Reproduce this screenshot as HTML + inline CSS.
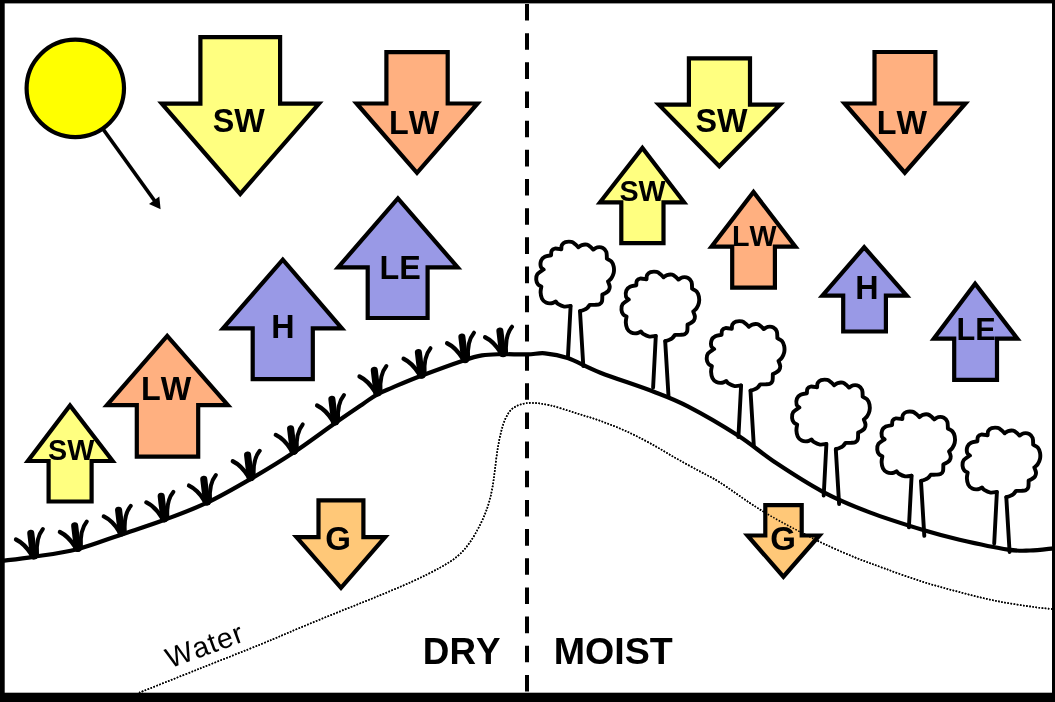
<!DOCTYPE html>
<html><head><meta charset="utf-8"><title>Energy balance: dry vs moist</title>
<style>
html,body{margin:0;padding:0;background:#fff;}
body{width:1055px;height:702px;overflow:hidden;}
svg{display:block;font-family:"Liberation Sans",sans-serif;fill:#000;font-kerning:none;}
</style></head><body>
<svg width="1055" height="702" viewBox="0 0 1055 702">
<rect width="1055" height="702" fill="#fff"/>
<path d="M2.00,560.80 C7.25,560.13 20.97,558.73 33.50,556.80 C46.03,554.87 62.52,552.93 77.20,549.20 C91.88,545.47 107.13,539.27 121.60,534.40 C136.07,529.53 149.77,525.28 164.00,520.00 C178.23,514.72 192.50,509.58 207.00,502.70 C221.50,495.82 236.57,487.07 251.00,478.70 C265.43,470.33 279.62,461.75 293.60,452.50 C307.58,443.25 323.45,431.22 334.90,423.20 C346.35,415.18 355.23,409.22 362.30,404.40 C369.37,399.58 372.30,397.10 377.30,394.30 C382.30,391.50 385.08,390.65 392.30,387.60 C399.52,384.55 408.70,380.53 420.60,376.00 C432.50,371.47 453.47,363.83 463.70,360.40 C473.93,356.97 475.95,356.43 482.00,355.40 C488.05,354.37 492.42,354.37 500.00,354.20 C507.58,354.03 520.00,354.55 527.50,354.40 C535.00,354.25 538.30,352.68 545.00,353.30 C551.70,353.92 558.47,354.87 567.70,358.10 C576.93,361.33 586.17,367.13 600.40,372.70 C614.63,378.27 638.45,385.85 653.10,391.50 C667.75,397.15 674.15,399.27 688.30,406.60 C702.45,413.93 723.35,426.08 738.00,435.50 C752.65,444.92 762.05,453.72 776.20,463.10 C790.35,472.48 807.32,483.58 822.90,491.80 C838.48,500.02 852.85,505.98 869.70,512.40 C886.55,518.82 909.03,525.75 924.00,530.30 C938.97,534.85 945.47,536.48 959.50,539.70 C973.53,542.92 996.45,547.80 1008.20,549.60 C1019.95,551.40 1022.53,550.72 1030.00,550.50 C1037.47,550.28 1049.17,548.67 1053.00,548.30" fill="none" stroke="#000" stroke-width="4.2" stroke-linejoin="round"/>
<path id="water" d="M139.00,692.80 C149.17,688.75 179.50,676.67 200.00,668.50 C220.50,660.33 245.67,650.45 262.00,643.80 C278.33,637.15 285.70,633.72 298.00,628.60 C310.30,623.48 323.18,618.22 335.80,613.10 C348.42,607.98 361.05,603.12 373.70,597.90 C386.35,592.68 400.63,586.85 411.70,581.80 C422.77,576.75 432.42,571.90 440.10,567.60 C447.78,563.30 452.87,560.17 457.80,556.00 C462.73,551.83 465.97,547.83 469.70,542.60 C473.43,537.37 477.20,530.58 480.20,524.60 C483.20,518.62 485.70,512.68 487.70,506.70 C489.70,500.72 491.02,494.68 492.20,488.70 C493.38,482.72 493.92,477.28 494.80,470.80 C495.68,464.32 496.45,456.28 497.50,449.80 C498.55,443.32 499.75,437.13 501.10,431.90 C502.45,426.67 503.85,422.15 505.60,418.40 C507.35,414.65 509.10,411.73 511.60,409.40 C514.10,407.07 517.10,405.48 520.60,404.40 C524.10,403.32 527.70,402.75 532.60,402.90 C537.50,403.05 542.93,403.65 550.00,405.30 C557.07,406.95 566.60,410.20 575.00,412.80 C583.40,415.40 591.98,417.88 600.40,420.90 C608.82,423.92 617.13,427.13 625.50,430.90 C633.87,434.67 642.23,438.97 650.60,443.50 C658.97,448.03 667.33,453.37 675.70,458.10 C684.07,462.83 693.43,467.85 700.80,471.90 C708.17,475.95 711.72,477.22 719.90,482.40 C728.08,487.58 741.17,497.25 749.90,503.00 C758.63,508.75 763.57,511.90 772.30,516.90 C781.03,521.90 793.57,528.45 802.30,533.00 C811.03,537.55 815.97,540.15 824.70,544.20 C833.43,548.25 844.72,553.25 854.70,557.30 C864.68,561.35 873.37,564.45 884.60,568.50 C895.83,572.55 909.62,577.67 922.10,581.60 C934.58,585.53 947.02,588.85 959.50,592.10 C971.98,595.35 984.52,598.60 997.00,601.10 C1009.48,603.60 1025.23,605.78 1034.40,607.10 C1043.57,608.42 1049.07,608.68 1052.00,609.00" fill="none" stroke="#000" stroke-width="1.55" stroke-dasharray="1.55 1.58"/>
<defs><g id="tuft" fill="none" stroke="#000" stroke-linecap="round"><path d="M-2.5,-3.4 Q-9.3,-14.2 -17.8,-18.3" stroke-width="4.3"/><path d="M0,-2 Q-1.8,-13 -3.0,-24.5" stroke-width="7.1"/><path d="M3.2,-3.4 Q2.0,-20 9.1,-28.8" stroke-width="4"/><circle cx="0.2" cy="-2.8" r="4.5" fill="#000" stroke="none"/></g><g id="tree" fill="none" stroke="#000" stroke-width="3.9" stroke-linecap="round" stroke-linejoin="round"><path d="M570.43,305.48 C569.39,305.57 566.26,306.39 564.17,306.05 C562.08,305.70 559.33,304.28 557.90,303.43 C556.48,302.57 556.01,301.34 555.63,300.92 C554.96,301.22 553.25,302.55 551.64,302.74 C550.03,302.93 547.56,302.84 545.95,302.06 C544.33,301.28 542.85,299.78 541.96,298.07 C541.07,296.36 540.69,293.80 540.59,291.81 C540.50,289.82 541.26,287.06 541.39,286.11 C540.82,285.73 538.83,284.97 537.97,283.84 C537.12,282.70 536.36,280.99 536.26,279.28 C536.17,277.57 536.17,275.29 537.40,273.59 C538.64,271.88 542.62,269.79 543.67,269.03 C543.19,268.56 541.24,267.70 540.82,266.18 C540.40,264.66 540.50,261.57 541.16,259.92 C541.83,258.27 543.15,257.13 544.81,256.27 C546.46,255.42 550.03,255.04 551.07,254.79 C551.17,254.03 551.01,251.36 551.64,250.24 C552.27,249.12 553.22,248.32 554.83,248.07 C556.44,247.83 560.24,248.64 561.32,248.76 C561.42,248.05 561.23,245.72 561.89,244.54 C562.56,243.37 563.69,242.21 565.31,241.69 C566.92,241.18 569.86,241.09 571.57,241.47 C573.28,241.85 574.42,243.08 575.56,243.97 C576.70,244.86 577.93,246.35 578.41,246.82 C578.97,246.44 580.40,244.98 581.82,244.54 C583.25,244.11 585.43,243.82 586.95,244.20 C588.47,244.58 589.89,246.00 590.93,246.82 C591.98,247.64 592.83,248.72 593.21,249.10 C593.88,248.72 595.58,247.10 597.20,246.82 C598.81,246.54 601.37,246.63 602.89,247.39 C604.41,248.15 605.65,249.57 606.31,251.38 C606.97,253.18 606.78,257.07 606.88,258.21 C607.64,258.68 610.30,259.73 611.44,261.06 C612.57,262.39 613.33,264.28 613.71,266.18 C614.09,268.08 614.09,270.55 613.71,272.45 C613.33,274.34 612.38,276.15 611.44,277.57 C610.49,279.00 608.59,280.42 608.02,280.99 C608.30,281.84 609.63,284.60 609.73,286.11 C609.82,287.63 609.25,289.06 608.59,290.10 C607.92,291.14 606.78,291.71 605.74,292.38 C604.70,293.04 602.89,293.80 602.32,294.09 C602.27,295.23 602.46,299.31 601.98,300.92 C601.51,302.53 600.65,303.20 599.48,303.77 C598.30,304.34 596.53,304.24 594.92,304.34 C593.31,304.43 590.65,304.34 589.79,304.34 C589.32,304.91 587.99,306.90 586.95,307.75 C585.90,308.61 584.67,308.99 583.53,309.46 C582.39,309.94 580.68,310.41 580.11,310.60" fill="#fff"/><path d="M570.6,305.5 L567.9,357"/><path d="M580,310.8 L583.3,365.5"/></g></defs>
<use href="#tuft" x="33.8" y="557.8"/>
<use href="#tuft" x="77.7" y="550.3"/>
<use href="#tuft" x="121.6" y="534.7"/>
<use href="#tuft" x="164.2" y="520.7"/>
<use href="#tuft" x="206.8" y="503.9"/>
<use href="#tuft" x="250.6" y="479.6"/>
<use href="#tuft" x="293.6" y="453.2"/>
<use href="#tuft" x="334.9" y="423.8"/>
<use href="#tuft" x="377.3" y="394.8"/>
<use href="#tuft" x="421.4" y="377.0"/>
<use href="#tuft" x="464.9" y="361.5"/>
<use href="#tuft" x="502.9" y="355.5"/>
<use href="#tree" x="0.0" y="0.5"/>
<use href="#tree" x="85.2" y="30.5"/>
<use href="#tree" x="170.5" y="80.0"/>
<use href="#tree" x="255.8" y="138.5"/>
<use href="#tree" x="341.0" y="170.3"/>
<use href="#tree" x="426.3" y="186.5"/>
<line x1="103" y1="129" x2="155.5" y2="202" stroke="#000" stroke-width="3.7"/>
<polygon points="160.6,209.2 149.0,204.0 159.3,196.6" fill="#000"/>
<circle cx="75.3" cy="88.35" r="48.7" fill="#FFFF00" stroke="#000" stroke-width="4.2"/>
<polygon points="200.4,37.2 280.1,37.2 280.1,103.6 319.0,103.6 240.2,194.0 161.8,103.6 200.4,103.6" fill="#FFFF80" stroke="#000" stroke-width="4.2" stroke-linejoin="miter"/>
<polygon points="386.4,52.1 447.7,52.1 447.7,103.5 477.5,103.5 417.0,172.8 356.6,103.5 386.4,103.5" fill="#FFB080" stroke="#000" stroke-width="4.2" stroke-linejoin="miter"/>
<polygon points="367.7,318.0 427.6,318.0 427.6,267.4 457.7,267.4 397.9,198.4 338.1,267.4 367.7,267.4" fill="#9999E6" stroke="#000" stroke-width="4.2" stroke-linejoin="miter"/>
<polygon points="252.7,379.2 312.8,379.2 312.8,328.4 341.9,328.4 282.8,259.7 223.0,328.4 252.7,328.4" fill="#9999E6" stroke="#000" stroke-width="4.2" stroke-linejoin="miter"/>
<polygon points="136.8,456.6 198.2,456.6 198.2,405.2 227.9,405.2 167.2,335.9 106.9,405.2 136.8,405.2" fill="#FFB080" stroke="#000" stroke-width="4.2" stroke-linejoin="miter"/>
<polygon points="48.6,501.5 91.6,501.5 91.6,461.0 112.6,461.0 70.0,405.5 27.9,461.0 48.6,461.0" fill="#FFFF80" stroke="#000" stroke-width="4.2" stroke-linejoin="miter"/>
<polygon points="318.5,500.3 363.4,500.3 363.4,537.1 385.1,537.1 341.0,587.9 296.5,537.1 318.5,537.1" fill="#FFC878" stroke="#000" stroke-width="4.2" stroke-linejoin="miter"/>
<polygon points="688.9,58.3 750.0,58.3 750.0,104.7 780.0,104.7 719.3,166.3 658.8,104.7 688.9,104.7" fill="#FFFF80" stroke="#000" stroke-width="4.2" stroke-linejoin="miter"/>
<polygon points="874.5,52.0 935.4,52.0 935.4,103.5 965.4,103.5 904.8,172.7 844.6,103.5 874.5,103.5" fill="#FFB080" stroke="#000" stroke-width="4.2" stroke-linejoin="miter"/>
<polygon points="621.3,243.2 663.5,243.2 663.5,202.3 684.1,202.3 642.4,147.9 600.0,202.3 621.3,202.3" fill="#FFFF80" stroke="#000" stroke-width="4.2" stroke-linejoin="miter"/>
<polygon points="732.2,287.6 774.9,287.6 774.9,246.7 795.4,246.7 753.5,192.0 711.5,246.7 732.2,246.7" fill="#FFB080" stroke="#000" stroke-width="4.2" stroke-linejoin="miter"/>
<polygon points="843.2,331.5 885.9,331.5 885.9,295.6 906.7,295.6 864.2,247.3 822.4,295.6 843.2,295.6" fill="#9999E6" stroke="#000" stroke-width="4.2" stroke-linejoin="miter"/>
<polygon points="954.2,379.9 997.0,379.9 997.0,338.7 1017.4,338.7 975.1,283.7 933.8,338.7 954.2,338.7" fill="#9999E6" stroke="#000" stroke-width="4.2" stroke-linejoin="miter"/>
<polygon points="765.3,505.2 801.7,505.2 801.7,535.5 819.4,535.5 783.4,576.7 747.5,535.5 765.3,535.5" fill="#FFC878" stroke="#000" stroke-width="4.2" stroke-linejoin="miter"/>
<use href="#water"/>
<g style="filter:grayscale(1)">
<text x="238.7" y="131.5" font-size="32.3" font-weight="bold" text-anchor="middle" >SW</text>
<text x="414.1" y="133.7" font-size="32.3" font-weight="bold" text-anchor="middle" >LW</text>
<text x="400.1" y="278.7" font-size="32.3" font-weight="bold" text-anchor="middle" >LE</text>
<text x="282.9" y="337.5" font-size="32.3" font-weight="bold" text-anchor="middle" >H</text>
<text x="166.2" y="400.4" font-size="32.3" font-weight="bold" text-anchor="middle" >LW</text>
<text x="71.2" y="459.6" font-size="28.7" font-weight="bold" text-anchor="middle" >SW</text>
<text x="338.2" y="550.4" font-size="33" font-weight="bold" text-anchor="middle" >G</text>
<text x="721.5" y="131.6" font-size="32.3" font-weight="bold" text-anchor="middle" >SW</text>
<text x="901.9" y="133.7" font-size="32.3" font-weight="bold" text-anchor="middle" >LW</text>
<text x="642.6" y="201.2" font-size="28.7" font-weight="bold" text-anchor="middle" >SW</text>
<text x="754.4" y="246.3" font-size="28.7" font-weight="bold" text-anchor="middle" >LW</text>
<text x="866.8" y="298.5" font-size="32.3" font-weight="bold" text-anchor="middle" >H</text>
<text x="976.0" y="340.2" font-size="30.7" font-weight="bold" text-anchor="middle" >LE</text>
<text x="783.1" y="550.4" font-size="33" font-weight="bold" text-anchor="middle" >G</text>
<text x="461.7" y="663.7" font-size="36.8" font-weight="bold" text-anchor="middle" >DRY</text>
<text x="613.2" y="663.8" font-size="37.6" font-weight="bold" text-anchor="middle" >MOIST</text>
<text transform="translate(170.1,668.6) rotate(-20.15)" font-size="28.7" font-weight="normal" letter-spacing="0.85">Water</text>
</g>
<line x1="527" y1="4" x2="527" y2="693" stroke="#000" stroke-width="4" stroke-dasharray="16.6 12.57"/>
<rect x="0" y="0" width="1055" height="3.4" fill="#000"/>
<rect x="0" y="0" width="4.7" height="702" fill="#000"/>
<rect x="1052" y="0" width="3" height="702" fill="#000"/>
<rect x="0" y="692.7" width="1055" height="9.3" fill="#000"/>
</svg>
</body></html>
